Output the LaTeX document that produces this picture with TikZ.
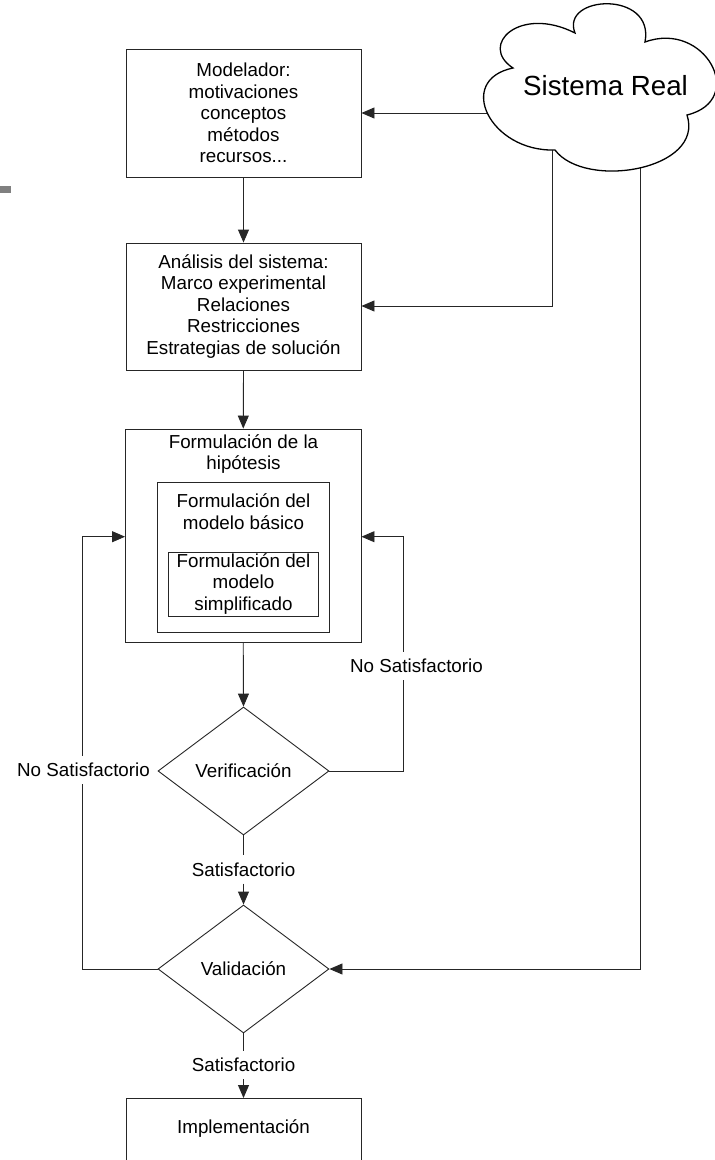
\documentclass[tikz,border=0pt]{standalone}
\usepackage{fontspec}
\setmainfont{Liberation Sans}
\usetikzlibrary{shapes.geometric,arrows.meta}
\tikzset{
  base/.style={font=\fontsize{18.8}{21.5}\selectfont, align=center},
  box/.style={base, draw=black!85, line width=0.9pt, minimum width=235pt, inner sep=0pt},
  dia/.style={base, diamond, draw=black!85, line width=0.9pt, minimum width=171pt, minimum height=128pt, inner sep=0pt, aspect=1.336},
  conn/.style={draw=black!85, line width=0.9pt},
  arr/.style={conn, -{Triangle[length=13pt,width=11pt]}},
  lbl/.style={base, fill=white, inner xsep=3pt, inner ysep=7pt},
  txt/.style={base, inner sep=0pt},
  cloudline/.style={draw=black, line width=1.3pt, fill=white},
}
\begin{document}
\begin{tikzpicture}[x=1pt,y=-1pt]
\fill[white] (0,0) rectangle (715,1160);
\useasboundingbox (0,0) rectangle (715,1160);
\fill[black!50] (0,186) rectangle (11,193);

% boxes
\node[box, minimum height=128pt] (mod) at (243.5,113) {Modelador:\\motivaciones\\conceptos\\métodos\\recursos...};
\node[box, minimum height=127pt] (ana) at (243.5,306.5) {Análisis del sistema:\\Marco experimental\\Relaciones\\Restricciones\\Estrategias de solución};
\node[box, minimum width=235.5pt, minimum height=213.5pt] (form) at (243.25,535.75) {};
\node[txt] (formt) at (243.5,454) {Formulación de la\\hipótesis};
\node[box, minimum width=171.8pt, minimum height=150pt] (bas) at (243.4,557) {};
\node[txt] (bast) at (243.5,511.5) {Formulación del\\modelo básico};
\node[box, minimum width=150pt, minimum height=64pt] (sim) at (243.5,584) {Formulación del\\modelo\\simplificado};
\node[dia] (ver) at (243.5,771) {Verificación};
\node[dia] (val) at (243.5,969) {Validación};
\node[box, minimum height=80pt, anchor=north] (imp) at (243.5,1098) {};
\node[txt] (impt) at (243.5,1129) {Implementación};

% labels
\node[lbl] (sat1) at (243.5,869.5) {Satisfactorio};
\node[lbl] (sat2) at (243.5,1065) {Satisfactorio};

% coordinates
\coordinate (rt) at (403.3,536.7);
\coordinate (rb) at (403.3,771);
\coordinate (lt) at (82.7,536.7);
\coordinate (lb) at (82.7,969);
\coordinate (c1) at (540,113);
\coordinate (c2) at (552.7,140);
\coordinate (c2b) at (552.7,306);
\coordinate (c3) at (640,150);
\coordinate (c3b) at (640,969);

% main flow
\draw[arr] (mod.south) -- (ana.north);
\draw[arr] (ana.south) -- (form.north);
\draw[arr] (form.south) -- (ver.north);
\draw[conn] (ver.south) -- (sat1.north);
\draw[arr] (sat1.south) -- (val.north);
\draw[conn] (val.south) -- (sat2.north);
\draw[arr] (sat2.south) -- (imp.north);

% loops
\draw[arr] (ver.east) -- (rb) -- (rt) -- (rt -| form.east);
\draw[arr] (val.west) -- (lb) -- (lt) -- (lt -| form.west);
\node[lbl] (nsr) at (416.5,666) {No Satisfactorio};
\node[lbl] (nsl) at (83.5,770) {No Satisfactorio};

% from the real system
\draw[arr] (c1) -- (c1 -| mod.east);
\draw[arr] (c2) -- (c2b) -- (c2b -| ana.east);
\draw[arr] (c3) -- (c3b) -- (val.east);

% cloud
\path[cloudline] (513,68) .. controls (478,45) and (520,5) .. (575,33)
  .. controls (560,-5) and (655,-10) .. (645,42)
  .. controls (705,20) and (748,100) .. (687,115)
  .. controls (705,170) and (585,190) .. (555,150)
  .. controls (490,152) and (455,80) .. (513,68) -- cycle;
\node[font=\fontsize{27.7}{30}\selectfont, inner sep=0pt] (sr) at (605.5,85.3) {Sistema Real};
\end{tikzpicture}
\end{document}
